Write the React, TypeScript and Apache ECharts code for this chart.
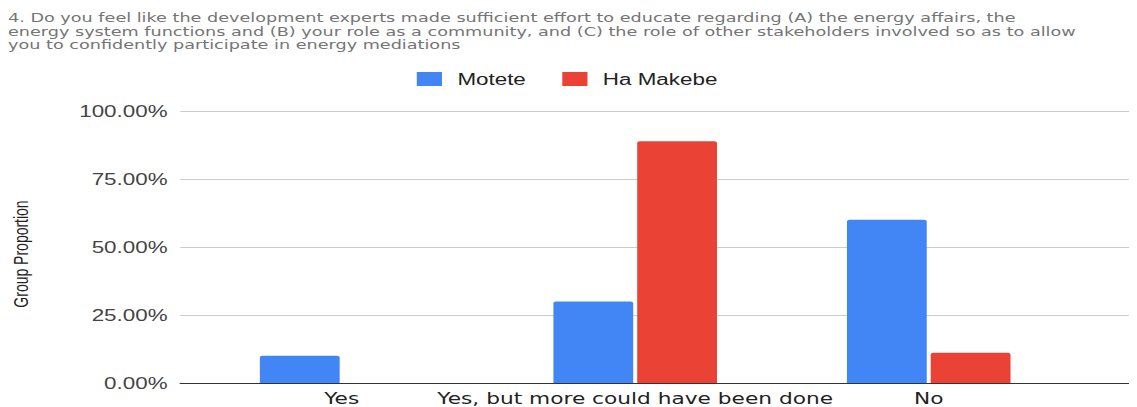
import React, { useEffect, useRef } from "react";
import * as echarts from "echarts";

const titleLines = [
  "4. Do you feel like the development experts made sufficient effort to educate regarding (A) the energy affairs, the",
  "energy system functions and (B) your role as a community, and (C) the role of other stakeholders involved so as to allow",
  "you to confidently participate in energy mediations",
];
const categories = ["Yes", "Yes, but more could have been done", "No"];
const seriesNames = ["Motete", "Ha Makebe"];
const moteteValues = [10, 30, 60];
const haMakebeValues = [0, 88.89, 11.11];
const colors = ["#4285F4", "#EA4335"];
const yTicks = [0, 25, 50, 75, 100];

const STRETCH = 1.4;
const FONT = "'Liberation Sans', Arial, sans-serif";
const WIDE = "'DejaVu Sans', Verdana, sans-serif";

export default function App() {
  const ref = useRef<HTMLDivElement>(null);
  useEffect(() => {
    if (!ref.current) return;
    const chart = echarts.init(ref.current, undefined, { renderer: "svg" });
    chart.setOption({
      animation: false,
      textStyle: { fontFamily: FONT },
      title: {
        text: titleLines.join("\n"),
        left: 0,
        top: 3,
        padding: 0,
        textStyle: {
          fontSize: 12.6,
          lineHeight: 13.7,
          fontWeight: "normal",
          color: "#757575",
          fontFamily: WIDE,
        },
      },
      legend: {
        data: seriesNames,
        left: 292,
        top: 62,
        padding: 0,
        itemWidth: 18,
        itemHeight: 14,
        itemGap: 26,
        icon: "rect",
        textStyle: {
          fontSize: 16,
          lineHeight: 18,
          color: "#222",
          padding: [0, 0, 0, 6],
          fontFamily: FONT,
        },
      },
      grid: [
        { left: 123, right: 1, top: 103, bottom: 24, containLabel: false, outerBoundsMode: "none" },
        { left: 133.5, right: 43.5, top: 103, bottom: 24, containLabel: false, outerBoundsMode: "none" },
      ],
      xAxis: [
        {
          type: "category",
          gridIndex: 0,
          data: categories,
          axisLine: { show: true, lineStyle: { color: "#333", width: 1 } },
          axisTick: { show: false },
          axisLabel: { show: false },
          splitLine: { show: false },
        },
        {
          type: "category",
          gridIndex: 1,
          data: categories,
          axisLine: { show: false },
          axisTick: { show: false },
          axisLabel: {
            margin: 8,
            fontSize: 15.5,
            color: "#222",
            interval: 0,
            fontFamily: WIDE,
          },
        },
      ],
      yAxis: [
        {
          type: "value",
          gridIndex: 0,
          min: yTicks[0],
          max: yTicks[yTicks.length - 1],
          interval: 25,
          name: "Group Proportion",
          nameLocation: "middle",
          nameGap: 106,
          nameRotate: 90,
          nameTextStyle: { fontSize: 14, color: "#222", fontFamily: FONT, padding: [0, 14, 0, 0] },
          axisLine: { show: false },
          axisTick: { show: false },
          axisLabel: {
            margin: 9,
            fontSize: 16,
            color: "#444",
            fontFamily: FONT,
            formatter: (v: number) => v.toFixed(2) + "%",
          },
          splitLine: { show: true, lineStyle: { color: "#cccccc", width: 1 } },
        },
        {
          type: "value",
          gridIndex: 1,
          min: yTicks[0],
          max: yTicks[yTicks.length - 1],
          interval: 25,
          show: false,
          splitLine: { show: false },
        },
      ],
      series: [
        {
          name: seriesNames[0],
          type: "bar",
          xAxisIndex: 1,
          yAxisIndex: 1,
          data: moteteValues,
          barWidth: 57,
          barGap: "5%",
          itemStyle: { color: colors[0], borderRadius: [2, 2, 0, 0] },
        },
        {
          name: seriesNames[1],
          type: "bar",
          xAxisIndex: 1,
          yAxisIndex: 1,
          data: haMakebeValues,
          barWidth: 57,
          barGap: "5%",
          itemStyle: { color: colors[1], borderRadius: [2, 2, 0, 0] },
        },
      ],
    });
    return () => chart.dispose();
  }, []);
  return (
    <div
      ref={ref}
      style={{
        width: 806,
        height: 399,
        transform: `scaleX(${STRETCH})`,
        transformOrigin: "0 0",
      }}
    />
  );
}
